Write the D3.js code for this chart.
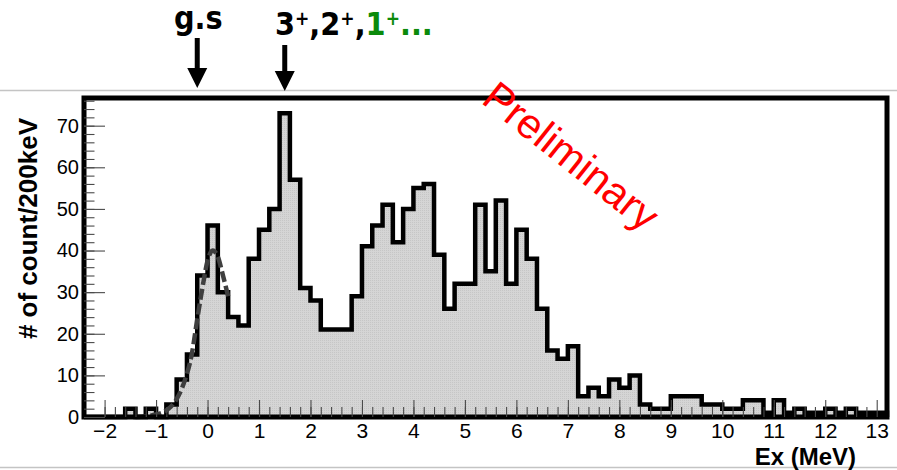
<!DOCTYPE html>
<html>
<head>
<meta charset="utf-8">
<script src="https://cdn.jsdelivr.net/npm/d3@7"></script>
<style>
  html, body { margin: 0; padding: 0; background: #fff; }
  svg { display: block; }
</style>
</head>
<body>
<svg id="chart" width="897" height="470"></svg>
<script>
// Excitation-energy spectrum: 200 keV bins starting at -2.4 MeV
const binStart = -2.4;
const binWidth = 0.2;
const counts = [
  0, 0, 0, 0, 2, 0, 2, 0, 3, 9,
  15, 34, 46, 30, 24, 22, 38, 45, 50, 73,
  57, 31, 28, 21, 21, 21, 29, 41, 46, 51,
  42, 50, 55, 56, 39, 26, 32, 32, 51, 35,
  52, 32, 45, 38, 26, 16, 14, 17, 5, 7,
  5, 9, 7, 10, 3, 2, 2, 5, 5, 5,
  3, 3, 2, 2, 4, 4, 1, 4, 1, 2,
  1, 1, 2, 1, 2, 1, 1, 1
];

// Ground-state fit curve (dashed), sampled along the curve
const fitEnergy = [-1.4, -1.2, -1.0, -0.8, -0.6, -0.45, -0.3, -0.2, -0.1, 0.0, 0.1, 0.2, 0.3, 0.4];
const fitCounts = [0.0, 0.2, 0.6, 1.6, 4.3, 8.5, 15.5, 23.5, 31, 37.5, 40, 38.5, 34, 29];

// Axis ticks
const xTicks = [-2, -1, 0, 1, 2, 3, 4, 5, 6, 7, 8, 9, 10, 11, 12, 13];
const yTicks = [0, 10, 20, 30, 40, 50, 60, 70];
const xMinorStep = 0.2;
const yMinorStep = 2;

// Arrow annotations above the frame (energies in MeV)
const arrowEnergies = [-0.2, 1.5];

const xDomain = [-2.4, 13.2];
const yMax = 76.65;

const svg = d3.select("#chart");
const W = 897, H = 470;
const plotLeft = 84, plotRight = 887, plotTop = 98, plotBottom = 417;

const x = d3.scaleLinear().domain(xDomain).range([plotLeft, plotRight]);
const y = d3.scaleLinear().domain([0, yMax]).range([plotBottom, plotTop]);

// page rules
svg.append("line").attr("x1", 0).attr("x2", W).attr("y1", 90.5).attr("y2", 90.5)
  .attr("stroke", "#c4c4c4").attr("stroke-width", 1.5);
svg.append("line").attr("x1", 0).attr("x2", W).attr("y1", 467.5).attr("y2", 467.5)
  .attr("stroke", "#c4c4c4").attr("stroke-width", 1.5);

// fine fill texture for the histogram
const defs = svg.append("defs");
const pat = defs.append("pattern").attr("id", "histFill")
  .attr("width", 2).attr("height", 2).attr("patternUnits", "userSpaceOnUse");
pat.append("rect").attr("width", 2).attr("height", 2).attr("fill", "#d5d5d5");
pat.append("rect").attr("width", 1).attr("height", 1).attr("fill", "#c6c6c6");

// histogram step outline points
const steps = [[binStart, 0]];
counts.forEach((c, i) => {
  const lo = binStart + i * binWidth;
  steps.push([lo, c], [lo + binWidth, c]);
});
steps.push([binStart + counts.length * binWidth, 0]);

const line = d3.line().x(d => x(d[0])).y(d => y(d[1]));
svg.append("path").attr("d", line(steps) + "Z")
  .attr("fill", "url(#histFill)").attr("stroke", "none");
svg.append("path").attr("d", line(steps))
  .attr("fill", "none").attr("stroke", "#000").attr("stroke-width", 4.5)
  .attr("stroke-linejoin", "miter");

// dashed fit curve
const fitLine = d3.line().x(d => x(d[0])).y(d => y(d[1])).curve(d3.curveMonotoneX);
svg.append("path").attr("d", fitLine(fitEnergy.map((e, i) => [e, fitCounts[i]])))
  .attr("fill", "none").attr("stroke", "#3f3f3f").attr("stroke-width", 4.5)
  .attr("stroke-dasharray", "11,4");

// frame
svg.append("rect").attr("x", plotLeft).attr("y", plotTop)
  .attr("width", plotRight - plotLeft).attr("height", plotBottom - plotTop)
  .attr("fill", "none").attr("stroke", "#000").attr("stroke-width", 5);

// axes (ticks drawn inward)
const xMinor = d3.range(Math.ceil(xDomain[0] / xMinorStep) + 1, Math.floor(xDomain[1] / xMinorStep))
  .map(k => +(k * xMinorStep).toFixed(2));
const yMinor = d3.range(1, Math.floor(yMax / yMinorStep) + 1).map(k => k * yMinorStep);

const axisColor = "#4a4a4a";
const gxMinor = svg.append("g").attr("transform", `translate(0,${plotBottom})`)
  .call(d3.axisBottom(x).tickValues(xMinor).tickSize(-10).tickFormat(""));
const gx = svg.append("g").attr("transform", `translate(0,${plotBottom})`)
  .call(d3.axisBottom(x).tickValues(xTicks).tickSize(-17).tickPadding(6));
const gyMinor = svg.append("g").attr("transform", `translate(${plotLeft},0)`)
  .call(d3.axisLeft(y).tickValues(yMinor).tickSize(-10.5).tickFormat(""));
const gy = svg.append("g").attr("transform", `translate(${plotLeft},0)`)
  .call(d3.axisLeft(y).tickValues(yTicks).tickSize(-21).tickPadding(5));

[gxMinor, gx, gyMinor, gy].forEach(g => {
  g.select(".domain").remove();
  g.selectAll(".tick line").attr("stroke", axisColor).attr("stroke-width", 1.1);
  g.selectAll("text").attr("fill", "#000")
    .attr("font-family", "'Liberation Sans', Arial, Helvetica, sans-serif");
});
gx.selectAll("text").attr("font-size", 21);
gy.selectAll("text").attr("font-size", 20);

// axis titles
svg.append("text").attr("x", 856).attr("y", 465)
  .attr("text-anchor", "end")
  .attr("font-family", "'Liberation Sans', Arial, Helvetica, sans-serif")
  .attr("font-weight", "bold").attr("font-size", 24)
  .text("Ex (MeV)");
svg.append("text")
  .attr("transform", "translate(37,118) rotate(-90)")
  .attr("text-anchor", "end")
  .attr("font-family", "'Liberation Sans', Arial, Helvetica, sans-serif")
  .attr("font-weight", "bold").attr("font-size", 26)
  .text("# of count/200keV");

// arrows above the frame
const arrowTops = [38, 45];
const arrowTips = [88, 91];
arrowEnergies.forEach((e, i) => {
  const ax = x(e);
  const tip = arrowTips[i];
  svg.append("line").attr("x1", ax).attr("x2", ax)
    .attr("y1", arrowTops[i]).attr("y2", tip - 18)
    .attr("stroke", "#000").attr("stroke-width", 5);
  svg.append("path")
    .attr("d", `M${ax - 10},${tip - 20}L${ax + 10},${tip - 20}L${ax},${tip}Z`)
    .attr("fill", "#000");
});

// level labels (condensed bold lettering)
const condensed = "'DejaVu Sans Condensed', 'DejaVu Sans', sans-serif";
svg.append("text").attr("x", x(arrowEnergies[0]) + 1).attr("y", 29)
  .attr("text-anchor", "middle")
  .attr("font-family", condensed).attr("font-weight", "bold").attr("font-size", 32)
  .attr("font-stretch", "condensed")
  .text("g.s");

const levels = svg.append("text").attr("x", 275).attr("y", 35)
  .attr("font-family", condensed).attr("font-weight", "bold").attr("font-size", 32)
  .attr("font-stretch", "condensed");
const parts = [
  { t: "3", c: "#000" }, { t: "+", c: "#000", sup: true }, { t: ",", c: "#000" },
  { t: "2", c: "#000" }, { t: "+", c: "#000", sup: true }, { t: ",", c: "#000" },
  { t: "1", c: "#0b8a0b" }, { t: "+", c: "#0b8a0b", sup: true }, { t: "...", c: "#0b8a0b" }
];
parts.forEach(p => {
  const ts = levels.append("tspan").attr("fill", p.c).text(p.t);
  if (p.sup) ts.attr("font-size", 19).attr("baseline-shift", "55%");
});

// watermark
svg.append("text")
  .attr("transform", "translate(480,102) rotate(38.5)")
  .attr("font-family", "'Liberation Sans', Arial, Helvetica, sans-serif")
  .attr("font-size", 42).attr("fill", "#ff0000")
  .text("Preliminary");
</script>
</body>
</html>
